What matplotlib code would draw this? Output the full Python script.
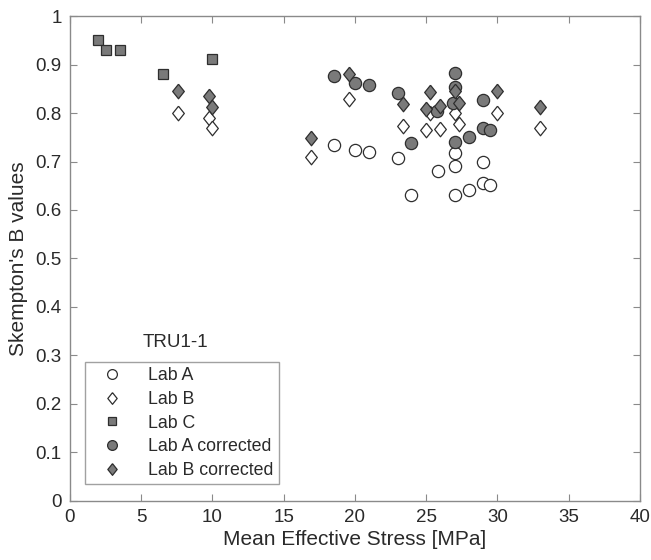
import matplotlib
matplotlib.use("Agg")
import matplotlib.pyplot as plt

plt.rcParams['font.family'] = ['Liberation Sans', 'DejaVu Sans']

# ---- data ----
labA_x = [18.5, 20.0, 21.0, 23.0, 23.9, 25.8, 27.0, 27.0, 27.0, 28.0, 29.0, 29.0, 29.5]
labA_y = [0.734, 0.724, 0.720, 0.707, 0.631, 0.681, 0.717, 0.691, 0.631, 0.641, 0.698, 0.655, 0.651]

labB_x = [7.6, 9.75, 10.0, 16.9, 19.6, 23.4, 25.0, 25.3, 26.0, 27.0, 27.3, 30.0, 33.0]
labB_y = [0.799, 0.790, 0.770, 0.709, 0.829, 0.774, 0.765, 0.800, 0.768, 0.801, 0.778, 0.801, 0.770]

labC_x = [2.0, 2.5, 3.5, 6.5, 10.0]
labC_y = [0.950, 0.930, 0.930, 0.880, 0.911]

labAc_x = [18.5, 20.0, 21.0, 23.0, 23.9, 25.75, 27.0, 27.0, 26.85, 27.0, 28.0, 29.0, 29.0, 29.5]
labAc_y = [0.877, 0.861, 0.858, 0.841, 0.738, 0.805, 0.883, 0.854, 0.820, 0.740, 0.751, 0.827, 0.770, 0.765]

labBc_x = [7.6, 9.75, 10.0, 16.9, 19.6, 23.4, 25.0, 25.3, 26.0, 27.0, 27.3, 30.0, 33.0]
labBc_y = [0.845, 0.835, 0.812, 0.748, 0.880, 0.818, 0.808, 0.844, 0.814, 0.846, 0.820, 0.845, 0.813]

x_ticks = [0, 5, 10, 15, 20, 25, 30, 35, 40]
y_ticks = [0, 0.1, 0.2, 0.3, 0.4, 0.5, 0.6, 0.7, 0.8, 0.9, 1]
y_ticklabels = ['0', '0.1', '0.2', '0.3', '0.4', '0.5', '0.6', '0.7', '0.8', '0.9', '1']

# ---- style ----
fill = '#7a7a7a'
edge = '#2e2e2e'
txt = '#2a2a2a'
spine = '#8a8a8a'
diamond = [(0, 1), (0.8, 0), (0, -1), (-0.8, 0), (0, 1)]

fig = plt.figure(figsize=(6.51, 5.60), dpi=100)
ax = fig.add_axes([0.1075, 0.1054, 0.8755, 0.866])

kw = dict(linestyle='none', markeredgecolor=edge, markeredgewidth=0.9)
ax.plot(labA_x, labA_y, marker='o', markersize=8.8, markerfacecolor='white', label='Lab A', **kw)
ax.plot(labB_x, labB_y, marker=diamond, markersize=10.5, markerfacecolor='white', label='Lab B', **kw)
ax.plot(labC_x, labC_y, marker='s', markersize=7.2, markerfacecolor=fill, label='Lab C', **kw)
ax.plot(labAc_x, labAc_y, marker='o', markersize=8.8, markerfacecolor=fill, label='Lab A corrected', **kw)
ax.plot(labBc_x, labBc_y, marker=diamond, markersize=10.5, markerfacecolor=fill, label='Lab B corrected', **kw)

ax.set_xlim(0, 40)
ax.set_ylim(0, 1)
ax.set_xticks(x_ticks)
ax.set_yticks(y_ticks)
ax.set_yticklabels(y_ticklabels)
ax.tick_params(direction='in', top=True, right=True, length=5, width=0.8,
               colors=spine, labelcolor=txt, labelsize=13.5, pad=6)
for s in ax.spines.values():
    s.set_color(spine)
    s.set_linewidth(1.0)

ax.set_xlabel('Mean Effective Stress [MPa]', fontsize=15, color=txt, labelpad=3)
ax.set_ylabel("Skempton's B values", fontsize=15, color=txt, labelpad=5)

ax.text(7.37, 0.326, 'TRU1-1', fontsize=13.5, color=txt, ha='center', va='center')

leg = ax.legend(loc='lower left', bbox_to_anchor=(0.026, 0.034), borderaxespad=0,
                fontsize=12.8, frameon=True, fancybox=False, edgecolor=spine,
                handlelength=2.5, handletextpad=0.75, labelspacing=0.38,
                borderpad=0.3, markerscale=0.8)
leg.get_frame().set_linewidth(1.0)
for t in leg.get_texts():
    t.set_color(txt)

fig.savefig('out.png', dpi=100)
